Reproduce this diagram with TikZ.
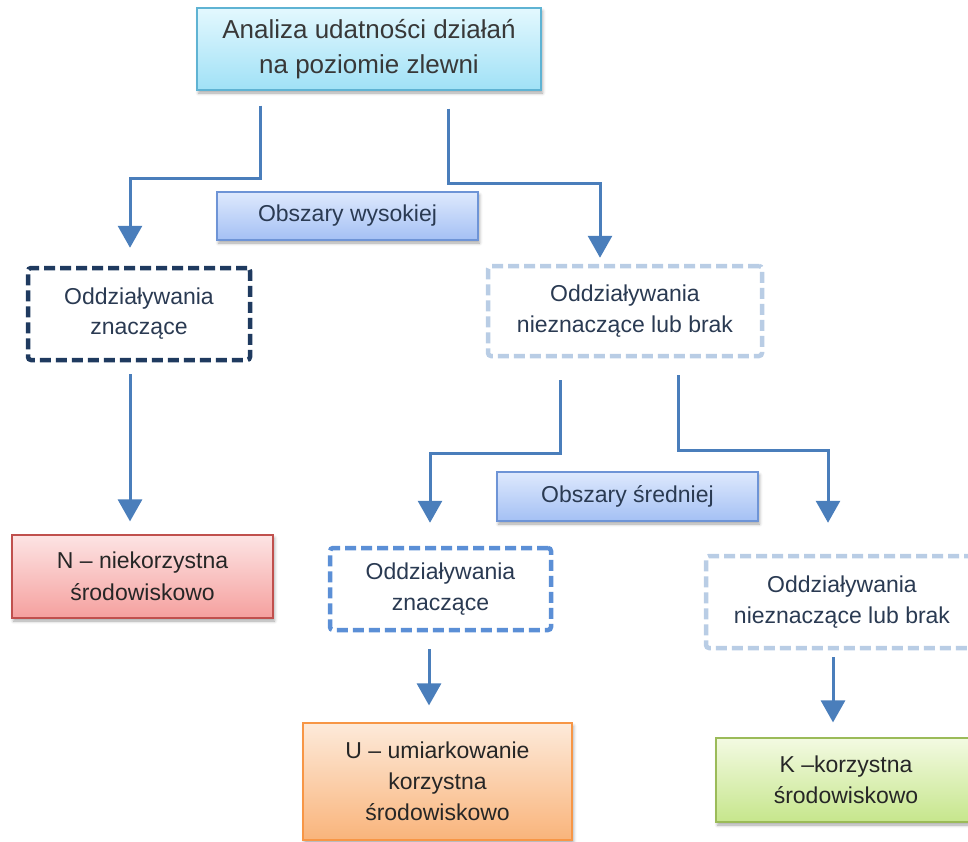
\documentclass[tikz,border=0pt]{standalone}
\usepackage{fontspec}
\setmainfont{Liberation Sans}
\usetikzlibrary{arrows.meta,shadows.blur}

\definecolor{arrowblue}{HTML}{4A7EBB}
\definecolor{navy}{HTML}{1F3A5F}
\definecolor{midblue}{HTML}{5B8FD6}
\definecolor{paleblue}{HTML}{B9CDE5}
\definecolor{txtdark}{HTML}{262626}
\definecolor{txtnavy}{HTML}{2A3A52}
\definecolor{topborder}{HTML}{5FB3D3}

\tikzset{
  basebox/.style={rectangle, align=center, inner sep=0pt, font=\fontsize{23}{31}\selectfont, text=txtdark},
  filledbox/.style={basebox, line width=1.2pt,
    blur shadow={shadow xshift=1.5pt, shadow yshift=-3pt, shadow blur radius=3pt, shadow opacity=35}},
  dashbox/.style={basebox, line width=4.5pt, rounded corners=3pt, dash pattern=on 11pt off 5pt, text=txtnavy, fill=white},
  conn/.style={draw=arrowblue, line width=3pt, -{Triangle[width=24pt,length=22pt]}},
}

\begin{document}
\begin{tikzpicture}[x=1pt, y=-1pt]
  \useasboundingbox (0,0) rectangle (968,841);

  % top analysis box
  \node[filledbox, draw=topborder, top color={rgb,255:red,227;green,248;blue,254}, bottom color={rgb,255:red,160;green,225;blue,246},
        minimum width=344pt, minimum height=82pt, text=black!78, font=\fontsize{26}{35}\selectfont]
    (top) at (369,49) {Analiza udatności działań\\na poziomie zlewni};

  % area labels
  \node[filledbox, draw={rgb,255:red,110;green,148;blue,214}, top color={rgb,255:red,222;green,233;blue,253}, bottom color={rgb,255:red,164;green,192;blue,244},
        minimum width=261pt, minimum height=48pt, text=txtnavy]
    (wys) at (347.5,216) {Obszary wysokiej};
  \node[filledbox, draw={rgb,255:red,110;green,148;blue,214}, top color={rgb,255:red,222;green,233;blue,253}, bottom color={rgb,255:red,164;green,192;blue,244},
        minimum width=261pt, minimum height=49pt, text=txtnavy]
    (sre) at (627.5,496.5) {Obszary średniej};

  % impact boxes
  \node[dashbox, draw=navy, minimum width=222pt, minimum height=92pt, font=\fontsize{23}{30}\selectfont]
    (lz) at (139,314) {Oddziaływania\\znaczące};
  \node[dashbox, draw=paleblue, minimum width=274pt, minimum height=90pt]
    (rn) at (625,311) {Oddziaływania\\nieznaczące lub brak};
  \node[dashbox, draw=midblue, minimum width=221pt, minimum height=82pt]
    (mz) at (440.5,589) {Oddziaływania\\znaczące};
  \node[dashbox, draw=paleblue, minimum width=272pt, minimum height=92pt]
    (rn2) at (842,602) {Oddziaływania\\nieznaczące lub brak};

  % result boxes
  \node[filledbox, draw={rgb,255:red,192;green,80;blue,77}, top color={rgb,255:red,253;green,228;blue,228}, bottom color={rgb,255:red,245;green,160;blue,158},
        minimum width=261pt, minimum height=83pt, font=\fontsize{23}{32}\selectfont]
    (N) at (142.5,576.5) {N – niekorzystna\\środowiskowo};
  \node[filledbox, draw={rgb,255:red,247;green,150;blue,70}, top color={rgb,255:red,253;green,234;blue,218}, bottom color={rgb,255:red,249;green,180;blue,123},
        minimum width=269pt, minimum height=117pt]
    (U) at (437.5,781.5) {U – umiarkowanie\\korzystna\\środowiskowo};
  \node[filledbox, draw={rgb,255:red,155;green,187;blue,89}, top color={rgb,255:red,243;green,250;blue,226}, bottom color={rgb,255:red,198;green,230;blue,140},
        minimum width=260pt, minimum height=84pt]
    (K) at (846,780) {K –korzystna\\środowiskowo};

  % connectors
  \draw[conn] ([xshift=-109pt,yshift=-15pt]top.south) -- ++(0,73) -| ([xshift=-9pt,yshift=18pt]lz.north);
  \draw[conn] ([xshift=79pt,yshift=-18pt]top.south) -- ++(0,75) -| ([xshift=-25pt,yshift=6pt]rn.north);
  \draw[conn] ([xshift=-9pt,yshift=-12pt]lz.south) -- ([xshift=-12.5pt,yshift=13pt]N.north);
  \draw[conn] ([xshift=-65pt,yshift=-22pt]rn.south) -- ++(0,73) -| ([xshift=-10.5pt,yshift=23pt]mz.north);
  \draw[conn] ([xshift=53pt,yshift=-17pt]rn.south) -- ++(0,75) -| ([xshift=-14pt,yshift=31pt]rn2.north);
  \draw[conn] ([xshift=-11.5pt,yshift=-17pt]mz.south) -- ([xshift=-8.5pt,yshift=17pt]U.north);
  \draw[conn] ([xshift=-9pt,yshift=-7pt]rn2.south) -- ([xshift=-13pt,yshift=15pt]K.north);
\end{tikzpicture}
\end{document}
